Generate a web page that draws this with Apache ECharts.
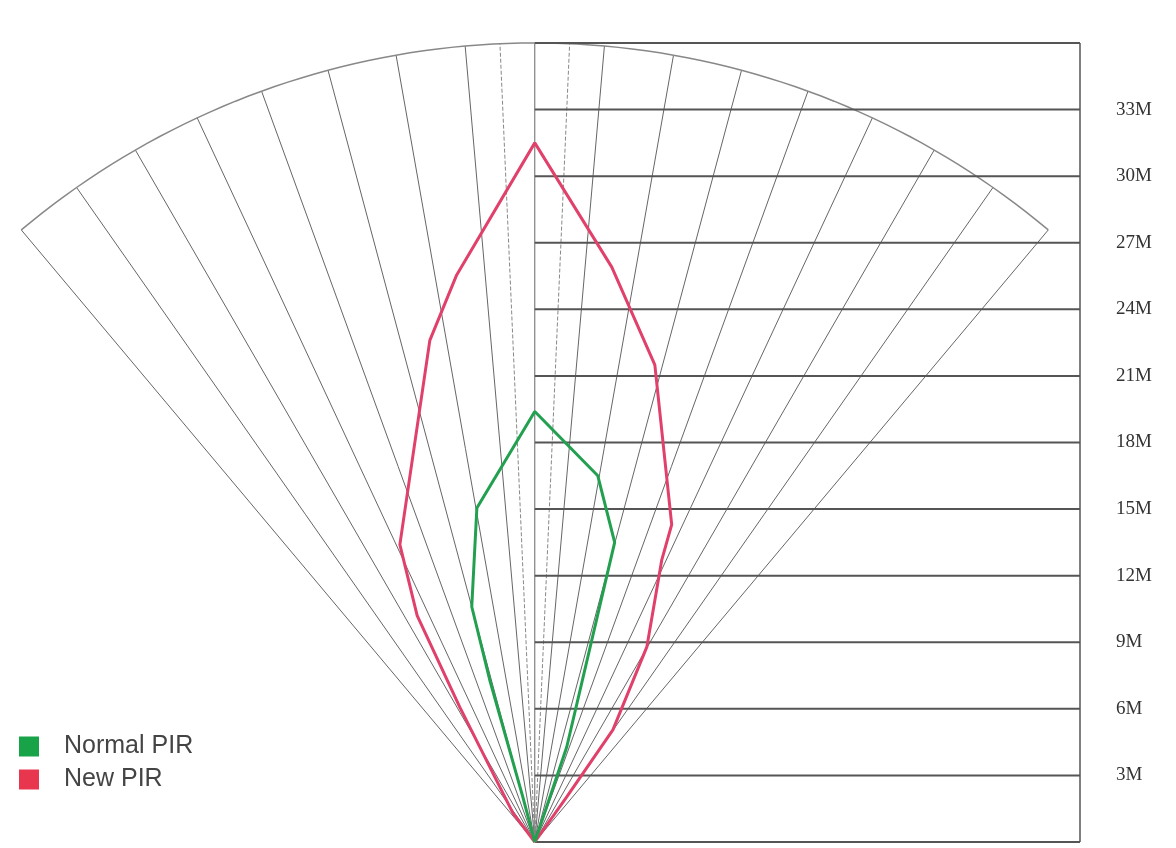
<!DOCTYPE html>
<html><head><meta charset="utf-8">
<script src="https://cdn.jsdelivr.net/npm/echarts@6/dist/echarts.min.js"></script>
<style>html,body{margin:0;padding:0;background:#fff}#c{width:1176px;height:848px}</style>
</head><body><div id="c"></div>
<script>
// Data (meters, x = lateral, y = forward)
const distanceLevels = [3, 6, 9, 12, 15, 18, 21, 24, 27, 30, 33];
const rayAngles = [-40, -35, -30, -25, -20, -15, -10, -5, 0, 5, 10, 15, 20, 25, 30, 35, 40];
const dashedRayAngles = [-2.5, 2.5];
const angleLabels = [-30, -25, -20, -15, -10, -5, 0, 5, 10, 15, 20, 25, 30];
const newPIR = [[0,0],[1.44,2.03],[3.52,5.05],[5.05,8.79],[5.72,12.7],[6.17,14.3],[5.41,21.5],[3.47,25.9],[0,31.5],
  [-3.52,25.55],[-4.73,22.6],[-6.08,13.4],[-5.3,10.2],[-3.38,6.08],[-0.99,1.31],[0,0]];
const normalPIR = [[0,0],[1.44,4.28],[3.6,13.5],[2.84,16.5],[0,19.4],[-2.61,15.05],[-2.84,10.6],[-2.03,7.3],[-0.54,2.03],[0,0]];
const R = 36, XMIN = -24.1, XMAX = 24.57;

const rad = a => a * Math.PI / 180;
const series = [];
const lineS = (data, color, width, type, z) => ({type:'line', data, symbol:'none', silent:true, z:z||2, clip:false,
  lineStyle:{color, width, type:type||'solid'}, animation:false});

rayAngles.forEach(a => series.push(lineS([[0,0],[R*Math.sin(rad(a)), R*Math.cos(rad(a))]], '#666', 1)));
dashedRayAngles.forEach(a => series.push(lineS([[0,0],[R*Math.sin(rad(a)), R*Math.cos(rad(a))]], '#888', 1, 'dashed')));
const arc = [];
for (let a = -40; a <= 40; a += 1) arc.push([R*Math.sin(rad(a)), R*Math.cos(rad(a))]);
series.push(lineS(arc, '#888', 1.5));
[0, ...distanceLevels, 36].forEach(d => series.push(lineS([[0,d],[XMAX,d]], '#555', 2)));
series.push(lineS([[XMAX,0],[XMAX,36]], '#555', 1.5));
series.push(Object.assign(lineS(newPIR, '#e0406a', 3, 'solid', 5), {name:'New PIR'}));
series.push(Object.assign(lineS(normalPIR, '#22a050', 3, 'solid', 6), {name:'Normal PIR'}));
series.push({type:'scatter', symbolSize:1, clip:false, silent:true, animation:false, z:7,
  itemStyle:{opacity:0},
  labelLayout:{hideOverlap:false},
  data: angleLabels.map(a => ({value:[36.9*Math.sin(rad(a)), 36.9*Math.cos(rad(a))],
    label:{show:true, position:'inside', rotate: -a*0.4,
      formatter: Math.abs(a) + '{d|°}',
      rich:{d:{fontSize:12, color:'#999', verticalAlign:'top', padding:[0,0,12,0]}},
      fontSize:25, color:'#333', fontFamily:'Liberation Sans'}}))});

const chart = echarts.init(document.getElementById('c'));
chart.setOption({
  backgroundColor:'#fff',
  grid:{left:0, right:96, top:43, bottom:6},
  xAxis:{type:'value', min:XMIN, max:XMAX, show:false},
  yAxis:{type:'value', min:0, max:36, interval:3, position:'right',
    axisLine:{show:false}, axisTick:{show:false}, splitLine:{show:false},
    axisLabel:{margin:36, fontFamily:'Liberation Serif', fontSize:19, color:'#333',
      formatter: v => (v>0 && v<36) ? v + 'M' : ''}},
  legend:{left:14, top:729, orient:'vertical', itemGap:8, itemWidth:20, itemHeight:20, icon:'rect',
    data:[{name:'Normal PIR', itemStyle:{color:'#19a349'}},{name:'New PIR', itemStyle:{color:'#e8364e'}}],
    textStyle:{fontSize:25, color:'#444', fontFamily:'Liberation Sans', padding:[0,0,0,20]}},
  series
});
</script></body></html>
